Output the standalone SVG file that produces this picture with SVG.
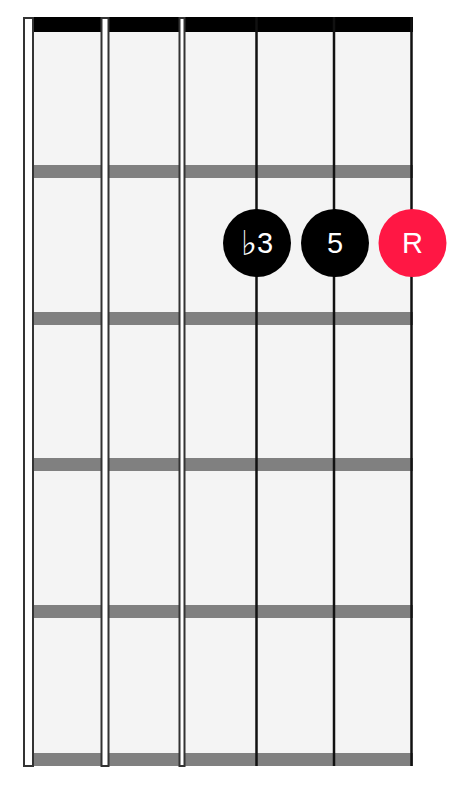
<svg xmlns="http://www.w3.org/2000/svg" width="460" height="788" viewBox="0 0 460 788">
<style>
.fret{fill:#808080}
.wound{fill:#ffffff;stroke:#333333;stroke-width:2}
.plain{stroke:#111111;stroke-width:2.5}
.dot{fill:#000000}
.root{fill:#ff1744}
.lbl{fill:#ffffff;font-family:"Liberation Sans",Arial,sans-serif;font-size:29px;text-anchor:middle;dominant-baseline:central}
.flat{font-family:"DejaVu Sans",sans-serif;font-size:34px;fill:#ffffff}
</style>
<rect width="460" height="788" fill="#ffffff"/>
<g id="board">
<rect x="28" y="17" width="384" height="749" fill="#f4f4f4"/>
<rect x="24" y="17" width="389" height="15" fill="#000000"/>
<rect class="fret" x="24" y="165" width="389" height="13"/>
<rect class="fret" x="24" y="312" width="389" height="13"/>
<rect class="fret" x="24" y="458" width="389" height="13"/>
<rect class="fret" x="24" y="605" width="389" height="13"/>
<rect class="fret" x="24" y="753" width="389" height="13"/>
</g>
<g id="strings">
<rect class="wound" x="24" y="18" width="9" height="748"/>
<rect class="wound" x="101.5" y="18" width="7" height="748"/>
<rect class="wound" x="179.5" y="18" width="5" height="748"/>
<line class="plain" x1="256.5" y1="17" x2="256.5" y2="766"/>
<line class="plain" x1="334" y1="17" x2="334" y2="766"/>
<line class="plain" x1="411.5" y1="17" x2="411.5" y2="766"/>
</g>
<g id="note-b3">
<circle class="dot" cx="257" cy="243" r="34"/>
<text class="lbl" x="257" y="243"><tspan class="flat">♭</tspan>3</text>
</g>
<g id="note-5">
<circle class="dot" cx="335" cy="243" r="34"/>
<text class="lbl" x="335" y="243">5</text>
</g>
<g id="note-R">
<circle class="root" cx="412.5" cy="243" r="34"/>
<text class="lbl" x="412.5" y="243">R</text>
</g>
</svg>
